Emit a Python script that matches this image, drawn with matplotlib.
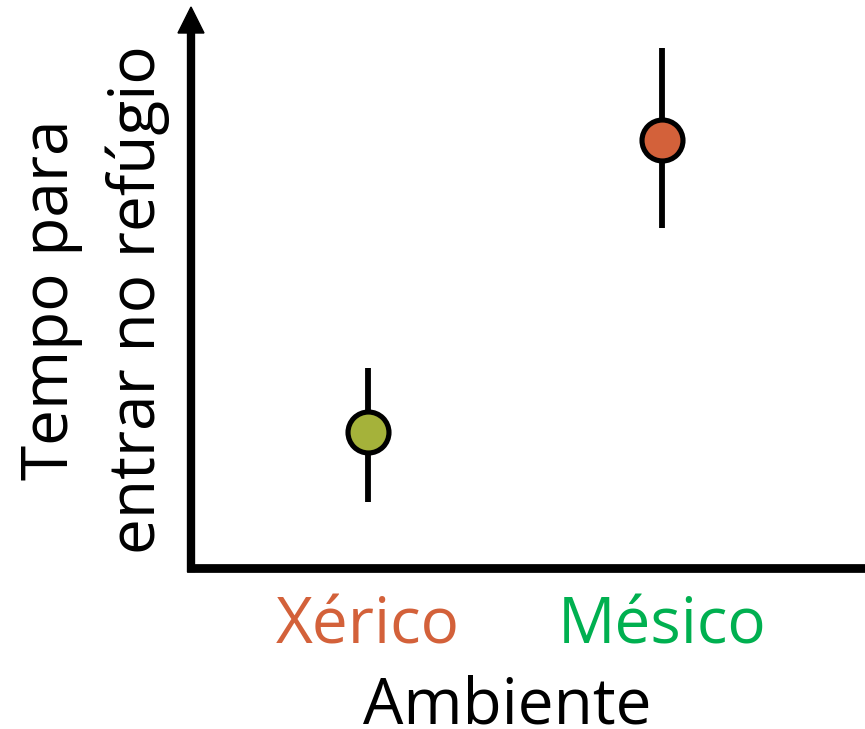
import matplotlib
matplotlib.use("Agg")
import matplotlib.pyplot as plt
from matplotlib.patches import Polygon
from matplotlib.transforms import blended_transform_factory

# data (arbitrary units)
categories = ["Xérico", "Mésico"]
means = [24.2, 76.3]
err_low = [11.7, 60.6]
err_high = [35.6, 92.7]
marker_colors = ["#A5B23A", "#D3613A"]
label_colors = ["#D3613A", "#00B050"]

plt.rcParams["font.family"] = ["Open Sans", "DejaVu Sans"]

W, H = 865, 729
fig = plt.figure(figsize=(W / 100, H / 100), dpi=100)
ax = fig.add_axes([191 / W, (H - 567.5) / H, 674 / W, 560.5 / H])

x = list(range(len(categories)))
for xi, m, lo, hi, c in zip(x, means, err_low, err_high, marker_colors):
    ax.plot([xi, xi], [lo, hi], color="black", linewidth=4.2, solid_capstyle="butt", zorder=2)
    ax.plot(xi, m, "o", markersize=29.5, markerfacecolor=c, markeredgecolor="black",
            markeredgewidth=3.7, zorder=3)

ax.set_xlim(-0.602, 1.690)
ax.set_ylim(0, 100)

for s in ["top", "right"]:
    ax.spines[s].set_visible(False)
ax.spines["left"].set_linewidth(6)
ax.spines["bottom"].set_linewidth(6.3)

# arrow head on top of the y axis
head_len = 26 / 560.5
head_hw = 13 / 674
ax.spines["left"].set_bounds(0, 100 * (1 - head_len) + 0.5)
ax.add_patch(Polygon([(-head_hw, 1 - head_len), (head_hw, 1 - head_len), (0, 1)],
                     closed=True, transform=ax.transAxes, color="black",
                     clip_on=False, zorder=5))

ax.set_xticks([])
ax.set_yticks([])

# category labels
trans = blended_transform_factory(ax.transData, ax.transAxes)
for xi, lab, c in zip(x, categories, label_colors):
    ax.text(xi, (567.5 - 643) / 560.5, lab, transform=trans, ha="center", va="baseline",
            fontsize=46, color=c)

# axis titles
fig.text(507 / W, (H - 724) / H, "Ambiente", ha="center", va="baseline", fontsize=46)
fig.text(68 / W, (H - 300) / H, "Tempo para", rotation=90, rotation_mode="anchor",
         ha="center", va="baseline", fontsize=46)
fig.text(155 / W, (H - 300) / H, "entrar no refúgio", rotation=90, rotation_mode="anchor",
         ha="center", va="baseline", fontsize=46)

fig.savefig("out.png", dpi=100)
